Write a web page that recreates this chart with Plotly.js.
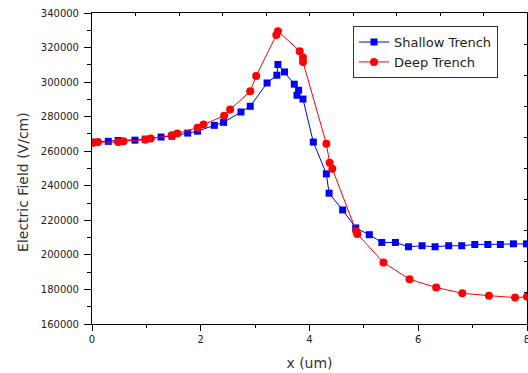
<!DOCTYPE html>
<html>
<head>
<meta charset="utf-8">
<script src="https://cdn.plot.ly/plotly-3.0.1.min.js"></script>
<style>html,body{margin:0;padding:0;background:#fff;}#chart{width:528px;height:373px;}</style>
</head>
<body>
<div id="chart"></div>
<script>
// Shallow Trench series
const shallowX = [0.01,0.30,0.48,0.79,0.98,1.27,1.47,1.76,1.94,2.25,2.42,2.74,2.91,3.22,3.40,3.42,3.54,3.72,3.80,3.77,3.88,4.07,4.31,4.36,4.61,4.85,5.10,5.33,5.58,5.82,6.07,6.31,6.56,6.80,7.04,7.28,7.51,7.75,7.99];
const shallowY = [265300,265700,266200,266400,267000,268200,268700,270500,271600,275000,276700,282700,286000,299500,304000,310200,305900,298800,295300,292400,290200,265300,246900,235700,226000,215600,211700,207200,207200,204700,205300,204700,205300,205300,206000,206000,206000,206400,206400];
// Deep Trench series
const deepX = [0.02,0.11,0.48,0.58,0.98,1.08,1.47,1.57,1.94,2.05,2.43,2.54,2.91,3.02,3.39,3.42,3.82,3.88,3.88,4.31,4.37,4.42,4.86,4.88,5.36,5.84,6.33,6.81,7.30,7.78,8.00];
const deepY = [264900,265300,265300,265800,266700,267400,269200,270300,273600,275400,280600,284100,294700,303600,327200,329500,317900,314300,311700,264300,253300,249800,213600,212100,195600,185900,181100,177800,176400,175300,175700];

const xTickVals = [0,2,4,6,8];
const yTickVals = [160000,180000,200000,220000,240000,260000,280000,300000,320000,340000];
const yTitle = 'Electric Field (V/cm)';
const xTitle = 'x (um)';

const FONT = "DejaVu Sans, Verdana, sans-serif";

const data = [
  {x: shallowX, y: shallowY, name: 'Shallow Trench', mode: 'lines+markers', type: 'scatter',
   line: {color: '#0000ff', width: 1}, marker: {symbol: 'square', size: 7, color: '#0000ff'}},
  {x: deepX, y: deepY, name: 'Deep Trench', mode: 'lines+markers', type: 'scatter',
   line: {color: '#ff0000', width: 1}, marker: {symbol: 'circle', size: 8, color: '#ff0000'}},
  {x: [], y: [], xaxis: 'x2', yaxis: 'y2', showlegend: false, hoverinfo: 'skip', type: 'scatter', mode: 'markers'}
];

const layout = {
  width: 528, height: 373,
  margin: {l: 92, r: 1, t: 13, b: 49},
  paper_bgcolor: '#fff', plot_bgcolor: '#fff',
  font: {family: FONT, color: '#222'},
  showlegend: true,
  legend: {x: 0.6, y: 0.958, xanchor: 'left', yanchor: 'top', bgcolor: '#fff',
           bordercolor: '#333', borderwidth: 1, font: {family: FONT, size: 13, color: '#222'}},
  xaxis: {range: [0, 8], tickvals: xTickVals, ticktext: xTickVals.map(String),
          ticks: 'outside', ticklen: 6, tickcolor: '#000', showline: true, linecolor: '#000', linewidth: 1,
          showgrid: false, zeroline: false, tickfont: {family: FONT, size: 10, color: '#222'},
          ticklabeloverflow: 'allow',
          minor: {dtick: 1, ticks: 'outside', ticklen: 3, tickcolor: '#000', showgrid: false},
          title: {text: xTitle, font: {family: FONT, size: 14, color: '#333'}, standoff: 14}},
  yaxis: {range: [160000, 340000], tickvals: yTickVals, ticktext: yTickVals.map(String),
          ticks: 'outside', ticklen: 7, tickcolor: '#000', showline: true, linecolor: '#000', linewidth: 1,
          showgrid: false, zeroline: false, tickfont: {family: FONT, size: 10, color: '#222'},
          ticklabelstandoff: 3, ticklabeloverflow: 'allow',
          minor: {dtick: 10000, ticks: 'outside', ticklen: 4, tickcolor: '#000', showgrid: false}},
  xaxis2: {overlaying: 'x', side: 'top', anchor: 'y2', range: [0, 10], dtick: 1, tick0: 0,
           ticks: 'inside', ticklen: 3, tickcolor: '#000', showticklabels: false, showline: true,
           linecolor: '#000', linewidth: 1, showgrid: false, zeroline: false},
  yaxis2: {overlaying: 'y', side: 'right', anchor: 'x2', range: [0, 10], dtick: 1, tick0: 0,
           ticks: 'inside', ticklen: 3, tickcolor: '#000', showticklabels: false, showline: true,
           linecolor: '#000', linewidth: 1, showgrid: false, zeroline: false},
  annotations: [
    {text: yTitle, xref: 'paper', yref: 'paper', x: -0.16, y: 0.458, xanchor: 'center', yanchor: 'middle',
     textangle: -90, showarrow: false, font: {family: FONT, size: 14, color: '#333'}}
  ]
};

Plotly.newPlot('chart', data, layout, {displayModeBar: false, staticPlot: true});
</script>
</body>
</html>
